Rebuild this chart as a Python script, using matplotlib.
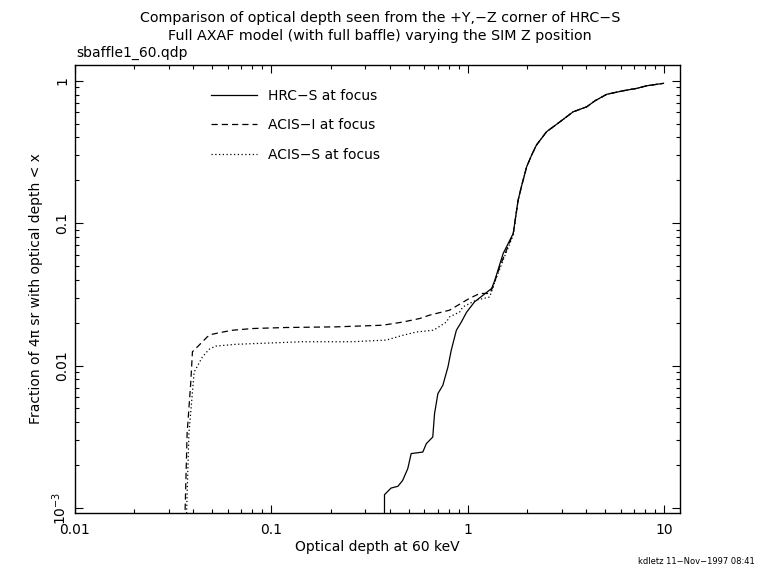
import matplotlib
matplotlib.use("Agg")
import matplotlib.pyplot as plt
from matplotlib.ticker import FixedLocator, FixedFormatter, LogLocator, NullFormatter

# ---- data ----
hrc_x = [0.376, 0.376, 0.406, 0.440, 0.465, 0.494, 0.514, 0.589, 0.614, 0.662,
         0.676, 0.703, 0.745, 0.791, 0.822, 0.873, 0.925, 0.984, 1.08, 1.32,
         1.37, 1.51, 1.70, 1.80, 1.87, 1.99, 2.11, 2.23, 2.51, 2.94,
         3.43, 4.02, 4.43, 5.08, 6.18, 7.23, 8.13, 9.89]
hrc_y = [5e-4, 1.24e-3, 1.38e-3, 1.42e-3, 1.56e-3, 1.89e-3, 2.41e-3, 2.47e-3, 2.83e-3, 3.15e-3,
         4.6e-3, 6.35e-3, 7.27e-3, 9.78e-3, 1.28e-2, 1.77e-2, 2.02e-2, 2.37e-2, 2.80e-2, 3.48e-2,
         3.97e-2, 6.12e-2, 8.47e-2, 0.145, 0.180, 0.249, 0.301, 0.353, 0.438, 0.515,
         0.605, 0.656, 0.723, 0.803, 0.851, 0.884, 0.922, 0.959]

acisi_x = [0.0359, 0.0372, 0.0388, 0.0396, 0.0428, 0.0471, 0.0491, 0.0541, 0.0632, 0.080,
           0.118, 0.213, 0.368, 0.465, 0.568, 0.638, 0.807, 0.908, 1.02, 1.15,
           1.29, 1.34, 1.45, 1.57, 1.70, 1.80, 1.87, 1.99, 2.11, 2.23,
           2.51, 2.94, 3.43, 4.02, 4.43, 5.08, 6.18, 7.23, 8.13, 9.89]
acisi_y = [5e-4, 3.33e-3, 7.47e-3, 1.25e-2, 1.39e-2, 1.59e-2, 1.65e-2, 1.70e-2, 1.77e-2, 1.82e-2,
           1.85e-2, 1.87e-2, 1.92e-2, 2.02e-2, 2.14e-2, 2.26e-2, 2.45e-2, 2.70e-2, 2.97e-2, 3.21e-2,
           3.21e-2, 3.57e-2, 4.93e-2, 6.46e-2, 8.47e-2, 0.145, 0.180, 0.249, 0.301, 0.353,
           0.438, 0.515, 0.605, 0.656, 0.723, 0.803, 0.851, 0.884, 0.922, 0.959]

aciss_x = [0.0365, 0.0380, 0.0404, 0.0445, 0.0481, 0.052, 0.0657, 0.0973, 0.144, 0.259,
           0.384, 0.465, 0.546, 0.662, 0.690, 0.776, 0.807, 0.908, 0.942, 1.10,
           1.29, 1.37, 1.51, 1.70, 1.80, 1.87, 1.99, 2.11, 2.23,
           2.51, 2.94, 3.43, 4.02, 4.43, 5.08, 6.18, 7.23, 8.13, 9.89]
aciss_y = [5e-4, 3.34e-3, 9.0e-3, 1.15e-2, 1.30e-2, 1.37e-2, 1.41e-2, 1.44e-2, 1.47e-2, 1.47e-2,
           1.51e-2, 1.63e-2, 1.72e-2, 1.77e-2, 1.82e-2, 2.02e-2, 2.20e-2, 2.38e-2, 2.58e-2, 2.88e-2,
           3.03e-2, 3.87e-2, 5.50e-2, 8.24e-2, 0.145, 0.180, 0.249, 0.301, 0.353,
           0.438, 0.515, 0.605, 0.656, 0.723, 0.803, 0.851, 0.884, 0.922, 0.959]

labels = ["HRC\u2212S at focus", "ACIS\u2212I at focus", "ACIS\u2212S at focus"]
xticks = [0.01, 0.1, 1, 10]
xticklabels = ["0.01", "0.1", "1", "10"]
yticks = [1e-3, 0.01, 0.1, 1]
yticklabels = ["10$^{\\mathregular{-3}}$", "0.01", "0.1", "1"]

plt.rcParams['font.family'] = ['DejaVu Sans']
plt.rcParams['mathtext.default'] = 'regular'

fig = plt.figure(figsize=(7.6, 5.7), dpi=100)
ax = fig.add_axes([75/760, 1 - 513/570, (680 - 75)/760, (513 - 65)/570])

lw = 0.9
ax.plot(hrc_x, hrc_y, color='black', lw=lw, label=labels[0])
ax.plot(acisi_x, acisi_y, color='black', lw=lw, linestyle=(0, (5, 3.2)), label=labels[1])
ax.plot(aciss_x, aciss_y, color='black', lw=lw, linestyle=(0, (1, 2)), label=labels[2])

ax.set_xscale('log')
ax.set_yscale('log')
ax.set_xlim(0.01, 12.0)
ax.set_ylim(9.22e-4, 1.29)

ax.xaxis.set_major_locator(FixedLocator(xticks))
ax.xaxis.set_major_formatter(FixedFormatter(xticklabels))
ax.yaxis.set_major_locator(FixedLocator(yticks))
ax.yaxis.set_major_formatter(FixedFormatter(yticklabels))
ax.xaxis.set_minor_locator(LogLocator(base=10, subs=range(2, 10)))
ax.yaxis.set_minor_locator(LogLocator(base=10, subs=range(2, 10)))
ax.xaxis.set_minor_formatter(NullFormatter())
ax.yaxis.set_minor_formatter(NullFormatter())

ax.tick_params(which='both', direction='in', top=True, right=True, width=0.8, colors='black')
ax.tick_params(which='major', length=5.5)
ax.tick_params(which='minor', length=3)
ax.tick_params(axis='x', which='major', labelsize=10, pad=7)
ax.tick_params(axis='y', which='major', labelsize=10, pad=4, labelrotation=90)
for t in ax.get_yticklabels():
    t.set_va('center')
for s in ax.spines.values():
    s.set_linewidth(1.0)

ax.set_xlabel("Optical depth at 60 keV", fontsize=10, labelpad=2)
ax.set_ylabel("Fraction of 4\u03c0 sr with optical depth < x", fontsize=10, labelpad=6)

leg = ax.legend(loc='upper left', bbox_to_anchor=(211/760, 1 - 89/570), bbox_transform=fig.transFigure,
                frameon=False, fontsize=10, handlelength=3.3, handletextpad=0.8, labelspacing=1.1,
                borderaxespad=0, borderpad=0)

fig.text(0.5, 1 - 18/570, "Comparison of optical depth seen from the +Y,\u2212Z corner of HRC\u2212S",
         ha='center', va='center', fontsize=10.3)
fig.text(0.5, 1 - 36/570, "Full AXAF model (with full baffle) varying the SIM Z position",
         ha='center', va='center', fontsize=10.3)
fig.text(76/760, 1 - 53/570, "sbaffle1_60.qdp", ha='left', va='center', fontsize=10)
fig.text(755/760, 1 - 561/570, "kdletz 11\u2212Nov\u22121997 08:41", ha='right', va='center', fontsize=6)

fig.savefig("out.png", dpi=100, facecolor='white')
